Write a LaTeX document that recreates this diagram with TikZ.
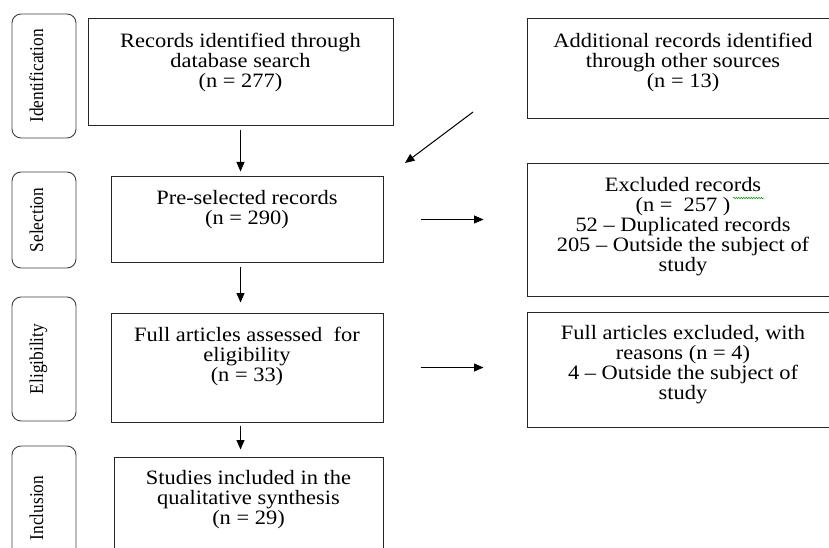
\documentclass[tikz,border=0pt]{standalone}
\usepackage{fontspec}
\setmainfont{Liberation Serif}[FakeStretch=1.1]
\newfontfamily\sidefont{Liberation Serif}[FakeStretch=0.89]
\usetikzlibrary{arrows.meta,positioning,decorations.pathmorphing}

\newcommand{\stagenode}[4]{\node[stage,minimum height=#3pt] (#1) at (44,#2) {};
  \node[stagetext] (#1text) at (43,#2) {#4};}
\newcommand{\flownode}[6]{\node[flow,minimum width=#4pt,minimum height=#5pt] (#1) at (#2,#3) {};
  \node[flowtext,below=14pt of #1.north] (#1text) {#6};}

\begin{document}
\begin{tikzpicture}[x=1pt,y=-1pt,
    stage/.style={draw=black!75,line width=0.9pt,rounded corners=9pt,minimum width=64pt,inner sep=0pt},
    stagetext/.style={rotate=90,anchor=base,inner sep=0pt,font=\sidefont\fontsize{19.5}{20}\selectfont},
    flow/.style={draw=black!85,line width=1pt,inner sep=0pt},
    flowtext/.style={align=center,inner sep=0pt,font=\fontsize{20.4}{20}\selectfont},
    arr/.style={line width=1pt,-{Triangle[length=9.5pt,width=8pt]}}]

  \useasboundingbox (0,0) rectangle (829,548);
  \clip (0,0) rectangle (829,548);

  \stagenode{ident}{76}{124}{Identification}
  \stagenode{select}{220}{96}{Selection}
  \stagenode{elig}{359}{124}{Eligibility}
  \stagenode{incl}{508}{124}{Inclusion}

  \flownode{db}{240.5}{72.5}{305}{107}{Records identified through\\database search\\(n = 277)}
  \flownode{other}{683}{69}{312}{100}{Additional records identified\\through other sources\\(n = 13)}
  \flownode{pre}{247}{219.5}{272}{85}{Pre-selected records\\(n = 290)}
  \flownode{excl}{683}{230}{312}{132}{Excluded records\\(n =\ \ 257 )\\52 -- Duplicated records\\205 -- Outside the subject of\\study}
  \flownode{full}{247}{367.5}{272}{109}{Full articles assessed\ \ for\\eligibility\\(n = 33)}
  \flownode{fullexcl}{683}{369.5}{312}{115}{Full articles excluded, with\\reasons (n = 4)\\4 -- Outside the subject of\\study}
  \flownode{synth}{248.5}{508.5}{269}{103}{Studies included in the\\qualitative synthesis\\(n = 29)}

  \draw[green!55!black,line width=0.5pt,decorate,decoration={snake,amplitude=0.7pt,segment length=2.5pt}]
    (733,198) -- (764,198);

  \coordinate (otherfrom) at (473,112);
  \coordinate (otherto) at (405,163);

  \draw[arr,shorten <=4pt,shorten >=5pt] (db.south) -- (db.south |- pre.north);
  \draw[arr,shorten <=4pt,shorten >=10pt] (db.south |- pre.south) -- (db.south |- full.north);
  \draw[arr,shorten <=3pt,shorten >=7pt] (db.south |- full.south) -- (db.south |- synth.north);
  \draw[arr] (otherfrom) -- (otherto);
  \draw[arr,shorten <=37pt,shorten >=43pt] (pre.east) -- (pre.east -| excl.west);
  \draw[arr,shorten <=37pt,shorten >=43pt] (full.east) -- (full.east -| fullexcl.west);

\end{tikzpicture}
\end{document}
